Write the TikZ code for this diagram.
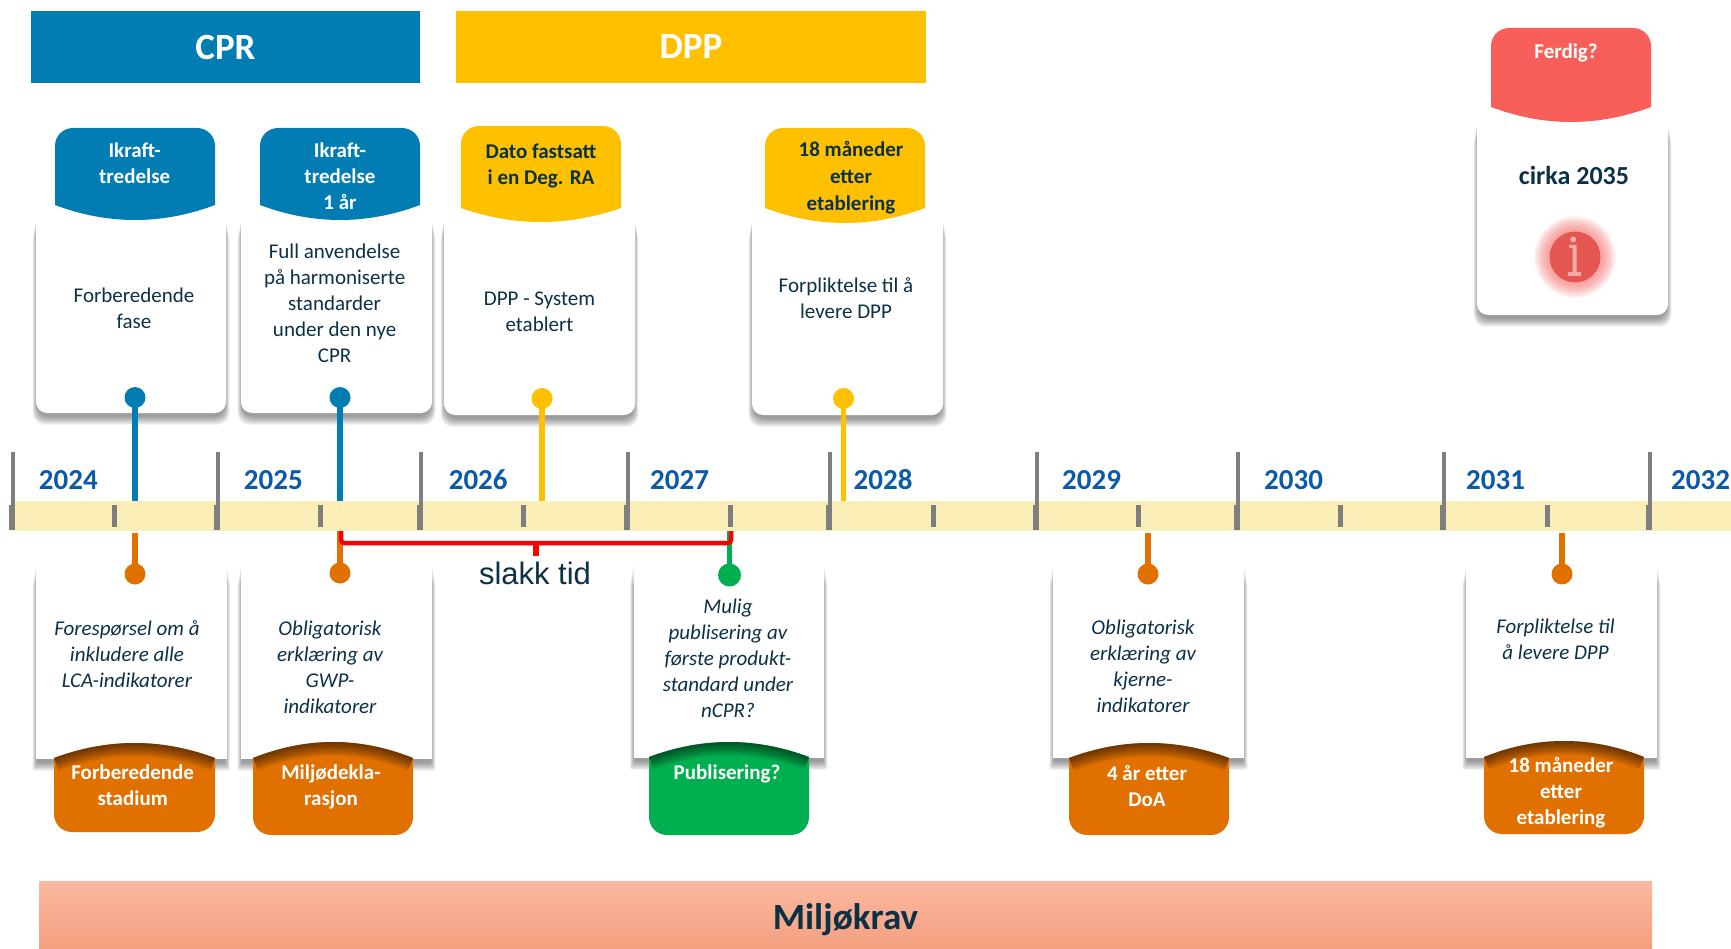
\documentclass[tikz,border=0pt]{standalone}
\usepackage{fontspec}
\setmainfont{Carlito}
\newfontfamily\slakkfont{Liberation Sans}
\definecolor{cprblue}{HTML}{027DB4}
\definecolor{dppyellow}{HTML}{FFC000}
\definecolor{envorange}{HTML}{E07000}
\definecolor{pubgreen}{HTML}{00B050}
\definecolor{donered}{HTML}{F95F5A}
\definecolor{bandyellow}{HTML}{FBEEB7}
\definecolor{inkdark}{HTML}{0B3146}
\definecolor{yearblue}{HTML}{0B5AA8}
\definecolor{tickgray}{HTML}{7F7F7F}
\definecolor{bartop}{HTML}{FBB8A0}
\definecolor{barbot}{HTML}{F4A07F}
\tikzset{
  x=1pt,y=-1pt,
  lbl/.style={align=center,inner sep=0pt,text=inkdark,font=\fontsize{21}{26}\selectfont},
  lblit/.style={lbl,font=\fontsize{21}{26}\selectfont\itshape},
  tabw/.style={align=center,inner sep=0pt,text=white,font=\fontsize{21}{26}\selectfont\bfseries},
  tabd/.style={tabw,text=inkdark},
  yearlbl/.style={anchor=west,inner sep=0pt,text=yearblue,font=\fontsize{29}{32}\selectfont\bfseries},
  headbar/.style={minimum height=72pt,inner sep=0pt,text=white,font=\fontsize{37}{40}\selectfont\bfseries},
  pin/.style={circle,inner sep=0pt,minimum size=21pt,fill=#1},
  stem/.style={line width=5.5pt,draw=#1},
  cardbox/.style={fill=white,rounded corners=11pt},
}
% soft shadow: \softshadow{x1}{x2}{ytop}{ybot}{corner}
\newcommand{\softshadow}[5]{%
  \foreach \k in {0,...,10}{
    \fill[black,opacity=.042,rounded corners=#5 pt]
      ({#1-3.5+\k*.45},{#3+8+(10-\k)*2.5}) rectangle ({#2+3.5-\k*.45},{#4+12-\k*.85});
  }
}
% \upcard{x1}{x2}{ytop}{ybot}
\newcommand{\upcard}[4]{%
  \softshadow{#1}{#2}{#3}{#4}{12}
  \fill[cardbox] (#1,#3) rectangle (#2,#4);
}
% \lowcard{x1}{x2}{ytop}{ybot}
\newcommand{\lowcard}[4]{%
  \softshadow{#1}{#2}{#3}{#4}{2}
  \fill[white,rounded corners=8pt] (#1,#3) rectangle (#2,{#3+40});
  \fill[white] (#1,{#3+20}) rectangle (#2,#4);
}
% \uptab{x1}{x2}{ytop}{yside}{ycentre}{colour}
\newcommand{\uptab}[6]{%
  \pgfmathsetmacro{\wa}{#1+(#2-#1)/3}%
  \pgfmathsetmacro{\wb}{#1+2*(#2-#1)/3}%
  \pgfmathsetmacro{\wy}{#4+(#5-#4)*4/3}%
  \fill[#6] (#1,#4) -- (#1,{#3+18}) .. controls (#1,{#3+8}) and ({#1+8},#3) .. ({#1+18},#3)
    -- ({#2-18},#3) .. controls ({#2-8},#3) and (#2,{#3+8}) .. (#2,{#3+18}) -- (#2,#4)
    .. controls (\wb,\wy) and (\wa,\wy) .. (#1,#4) -- cycle;
}
% \lowtab{x1}{x2}{ycentre}{yside}{ybot}{colour}
\newcommand{\lowtab}[6]{%
  \pgfmathsetmacro{\wa}{#1+(#2-#1)/3}%
  \pgfmathsetmacro{\wb}{#1+2*(#2-#1)/3}%
  \pgfmathsetmacro{\wy}{#4+(#3-#4)*4/3}%
  \begin{scope}
    \clip (#1,#4) -- (#1,{#5-18}) .. controls (#1,{#5-8}) and ({#1+8},#5) .. ({#1+18},#5)
      -- ({#2-18},#5) .. controls ({#2-8},#5) and (#2,{#5-8}) .. (#2,{#5-18}) -- (#2,#4)
      .. controls (\wb,\wy) and (\wa,\wy) .. (#1,#4) -- cycle;
    \fill[#6] ({#1-2},{#3-2}) rectangle ({#2+2},{#5+2});
    \foreach \lw in {3,6,9,12,15,18,21,24,27}{
      \draw[black,opacity=.07,line width=\lw pt] (#1,#4) .. controls (\wa,\wy) and (\wb,\wy) .. (#2,#4);
    }
  \end{scope}
}
\begin{document}
\begin{tikzpicture}
\useasboundingbox (0,0) rectangle (1731,949);

% header bars
\node[headbar,fill=cprblue,minimum width=389pt] (cpr) at (225.5,47) {\raisebox{-1pt}{CPR}};
\node[headbar,fill=dppyellow,minimum width=470pt] (dpp) at (691,47) {\raisebox{-1pt}{DPP}};

% bottom bar
\fill[top color=bartop,bottom color=barbot] (39,881) rectangle (1652,949);
\node[inner sep=0pt,text=inkdark,font=\fontsize{37}{40}\selectfont\bfseries] (miljo) at (845.5,920) {Miljøkrav};

% time band
\fill[bandyellow] (12,501) rectangle (1731,531);
\foreach \x in {114.5,320,523.6,730,933,1138,1340,1547}{
  \fill[tickgray] ({\x-2.5},505) rectangle ({\x+2.5},527);
}
\foreach \x in {13,218,421,628,830,1037,1238,1444,1650}{
  \fill[tickgray] ({\x-2.3},452) rectangle ({\x+2.3},530);
  \fill[tickgray] ({\x-4.3},505) rectangle ({\x+2.3},530);
}
\node[yearlbl] (y24) at (38.7,480) {2024};
\node[yearlbl] (y25) at (243.7,480) {2025};
\node[yearlbl] (y26) at (448.6,480) {2026};
\node[yearlbl] (y27) at (650,480) {2027};
\node[yearlbl] (y28) at (853.5,480) {2028};
\node[yearlbl] (y29) at (1062,480) {2029};
\node[yearlbl] (y30) at (1264,480) {2030};
\node[yearlbl] (y31) at (1466,480) {2031};
\node[yearlbl] (y32) at (1671,480) {2032};

% upper cards
\upcard{36}{226}{196}{413}
\upcard{241}{432}{196}{413}
\upcard{444}{635}{196}{415}
\upcard{752}{943}{196}{415}
\upcard{1477}{1668}{100}{315}
\uptab{55}{215}{128}{205}{220}{cprblue}
\uptab{260}{420}{128}{205}{220}{cprblue}
\uptab{461}{621}{126}{208}{222}{dppyellow}
\uptab{765}{925}{128}{208}{223}{dppyellow}
\uptab{1491}{1651}{28}{107}{122}{donered}

% lower cards
\lowcard{36}{226.5}{550}{759}
\lowcard{241}{432}{550}{759}
\lowcard{633.5}{824}{550}{758}
\lowcard{1053}{1244}{550}{758}
\lowcard{1466}{1657}{550}{758}
\lowtab{54}{215}{743}{758}{832}{envorange}
\lowtab{253}{413}{742}{758}{835}{envorange}
\lowtab{649}{809}{742}{757}{835}{pubgreen}
\lowtab{1069}{1229}{743}{758}{835}{envorange}
\lowtab{1484}{1644}{741}{757}{834}{envorange}

% upper pins
\coordinate (ua) at (135,501);
\coordinate (ub) at (340,501);
\coordinate (uc) at (542,501);
\coordinate (ud) at (843.5,501);
\node[pin=cprblue] (pa) at (135,397.5) {};
\node[pin=cprblue] (pb) at (340,397.5) {};
\node[pin=dppyellow] (pc) at (542,398.5) {};
\node[pin=dppyellow] (pd) at (843.5,398.5) {};
\draw[stem=cprblue] (pa.center) -- (ua);
\draw[stem=cprblue] (pb.center) -- (ub);
\draw[stem=dppyellow] (pc.center) -- (uc);
\draw[stem=dppyellow] (pd.center) -- (ud);

% lower pins
\coordinate (la) at (135,533);
\coordinate (lb) at (340,531);
\coordinate (lc) at (729.5,531);
\coordinate (ld) at (1148,533);
\coordinate (le) at (1562,533);
\node[pin=envorange] (qa) at (135,574) {};
\node[pin=envorange] (qb) at (340,573) {};
\node[pin=pubgreen,minimum size=23pt] (qc) at (729.5,575) {};
\node[pin=envorange] (qd) at (1148,574) {};
\node[pin=envorange] (qe) at (1562,574) {};
\draw[stem=envorange] (qa.center) -- (la);
\draw[stem=envorange] (qb.center) -- (lb);
\draw[stem=pubgreen] (qc.center) -- (lc);
\draw[stem=envorange] (qd.center) -- (ld);
\draw[stem=envorange] (qe.center) -- (le);

% slack bracket
\coordinate (brl) at (341,531);
\coordinate (brr) at (731,531);
\coordinate (brm) at (536,543);
\coordinate (brs) at (536,556);
\draw[red,line width=4.5pt,rounded corners=3pt] (brl) -- (341,543) -- (731,543) -- (brr);
\draw[red,line width=6.5pt] (brm) -- (brs);
\node[inner sep=0pt,text=inkdark,font=\slakkfont\fontsize{31}{36}\selectfont] (slakk) at (535,573) {slakk tid};

% upper tab texts
\node[tabw] (t1) at (134.7,163) {Ikraft-\\tredelse};
\node[tabw] (t2) at (340,176) {Ikraft-\\tredelse\\1 år};
\node[tabd] (t3) at (541,166) {Dato fastsatt\\i en Deg. RA};
\node[tabd,font=\fontsize{21}{27}\selectfont\bfseries] (t4) at (851,178) {18 måneder\\etter\\etablering};
\node[tabw] (t5) at (1566,53) {Ferdig?};

% upper card texts
\node[lbl] (c1) at (134,308) {Forberedende\\fase};
\node[lbl] (c2) at (334.6,303) {Full anvendelse\\på harmoniserte\\standarder\\under den nye\\CPR};
\node[lbl] (c3) at (539.5,312) {DPP - System\\etablert};
\node[lbl] (c4) at (846,298) {Forpliktelse til å\\levere DPP};
\node[lbl,font=\fontsize{26}{30}\selectfont\bfseries] (c5) at (1574,175) {cirka 2035};

% info icon
\foreach \r in {41,40,39,38,37,36,35,34,33,32,31,30,29,28}{
  \fill[donered,opacity=.05] (1575,257) circle (\r);
}
\node[circle,fill=donered!92!black,inner sep=0pt,minimum size=51pt] (info) at (1575,257) {};
\fill[white,opacity=.5] (1573.2,239.5) circle (3);
\fill[white,opacity=.5] (1569,245) -- (1576.5,245) -- (1576.5,272) -- (1581,272) -- (1581,276) -- (1568,276) -- (1568,272) -- (1572.5,272) -- (1572.5,248) -- (1569,248) -- cycle;

% lower card texts
\node[lblit] (d1) at (127,654) {Forespørsel om å\\inkludere alle\\LCA-indikatorer};
\node[lblit] (d2) at (330,667) {Obligatorisk\\erklæring av\\GWP-\\indikatorer};
\node[lblit] (d3) at (728,658) {Mulig\\publisering av\\første produkt-\\standard under\\nCPR?};
\node[lblit] (d4) at (1143,666) {Obligatorisk\\erklæring av\\kjerne-\\indikatorer};
\node[lblit] (d5) at (1555.5,639) {Forpliktelse til\\å levere DPP};

% lower tab texts
\node[tabw] (b1) at (132.7,785) {Forberedende\\stadium};
\node[tabw] (b2) at (331,787) {Miljødekla-\\rasjon};
\node[tabw] (b3) at (727,774) {Publisering?};
\node[tabw] (b4) at (1147,785.5) {4 år etter\\DoA};
\node[tabw] (b5) at (1561,792.5) {18 måneder\\etter\\etablering};
\end{tikzpicture}
\end{document}
